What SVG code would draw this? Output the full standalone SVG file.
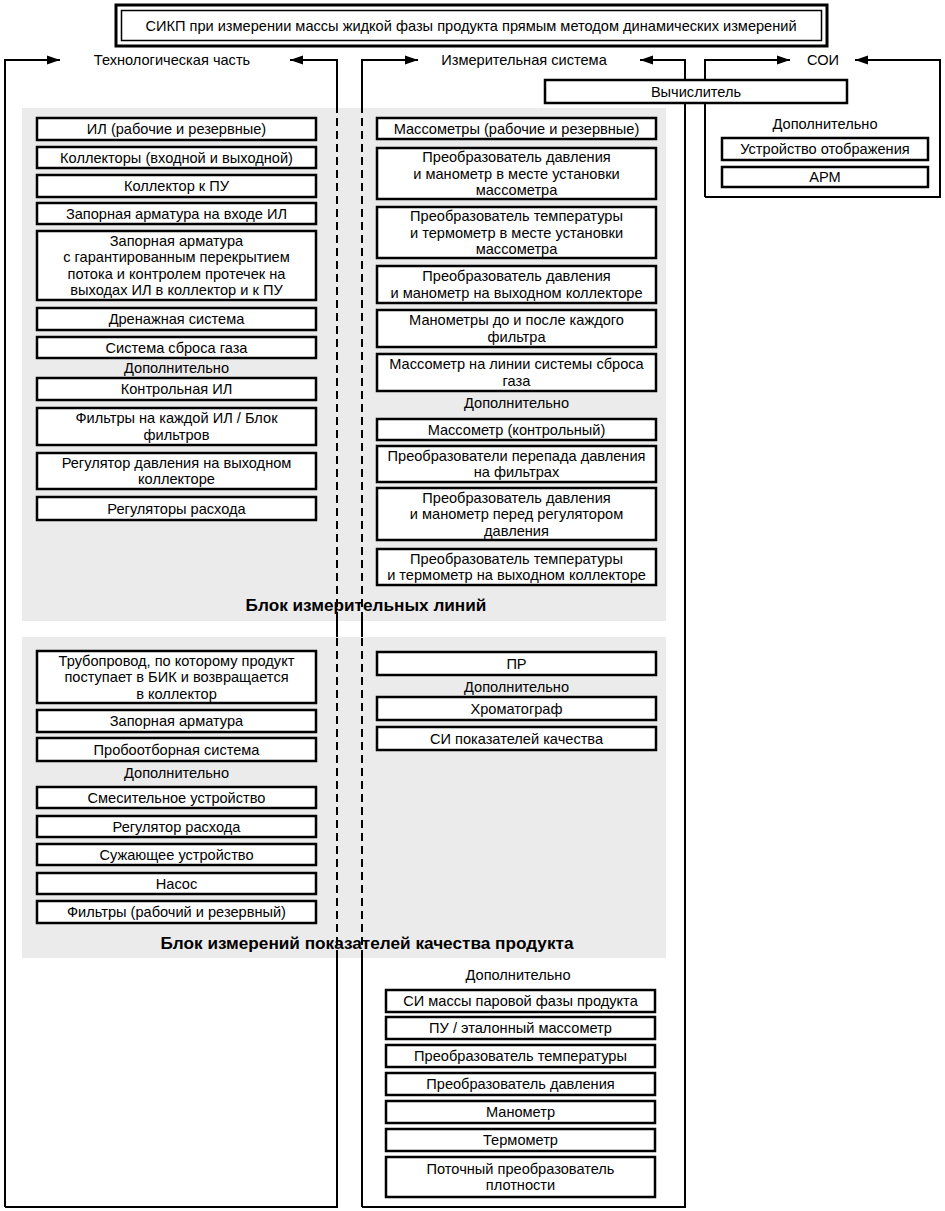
<svg xmlns="http://www.w3.org/2000/svg" width="945" height="1211" viewBox="0 0 945 1211">
<defs>
<marker id="arr" markerUnits="userSpaceOnUse" markerWidth="14" markerHeight="10" refX="13" refY="5" orient="auto">
<path d="M0,0.5 L13,5 L0,9.5 z" fill="#000"/>
</marker>
<style>
text{font-family:"Liberation Sans",Arial,sans-serif;font-size:14.6px;fill:#000;text-anchor:middle}
.b{font-weight:bold;font-size:17.2px}
.box{fill:#fff;stroke:#000;stroke-width:2.5}
.panel{fill:#ebebeb;stroke:none}
.ln{fill:none;stroke:#000;stroke-width:2}
.dash{fill:none;stroke:#000;stroke-width:2;stroke-dasharray:8,5}
</style>
</defs>
<rect width="945" height="1211" fill="#fff"/>

<g id="panels">
<rect class="panel" x="22" y="108" width="644" height="513"/>
<rect class="panel" x="22" y="637" width="644" height="321"/>
<text class="b" x="366" y="611">Блок измерительных линий</text>
<text class="b" x="367" y="949">Блок измерений показателей качества продукта</text>
</g>

<g id="connectors">
<path class="ln" d="M5,1207 L5,60 L60,60" marker-end="url(#arr)"/>
<path class="ln" d="M5,1207 L337,1207 L337,958"/>
<path class="dash" d="M337,958 L337,637"/>
<path class="ln" d="M337,637 L337,620"/>
<path class="dash" d="M337,620 L337,108"/>
<path class="ln" d="M337,108 L337,60 L290,60" marker-end="url(#arr)"/>
<path class="ln" d="M362,108 L362,60 L418,60" marker-end="url(#arr)"/>
<path class="ln" d="M362,1207 L685,1207 L685,60 L640,60" marker-end="url(#arr)"/>
<path class="ln" d="M362,1207 L362,958"/>
<path class="dash" d="M362,958 L362,637"/>
<path class="ln" d="M362,637 L362,620"/>
<path class="dash" d="M362,620 L362,108"/>
<path class="ln" d="M705,197 L705,60 L790,60" marker-end="url(#arr)"/>
<path class="ln" d="M705,197 L940,197 L940,60 L855,60" marker-end="url(#arr)"/>
</g>

<g id="title">
<rect x="116" y="5" width="711" height="41" fill="#fff" stroke="#000" stroke-width="3"/>
<rect x="121.5" y="10.5" width="700" height="30" fill="none" stroke="#000" stroke-width="1.5"/>
<text x="471" y="30.5">СИКП при измерении массы жидкой фазы продукта прямым методом динамических измерений</text>
</g>

<g id="labels">
<text x="172" y="65">Технологическая часть</text>
<text x="524" y="65">Измерительная система</text>
<text x="823" y="65">СОИ</text>
</g>

<g id="soi">
<g id="n-vych"><rect class="box" x="545" y="80" width="302" height="23"/><text x="696" y="96.5">Вычислитель</text></g>
<text x="825" y="129">Дополнительно</text>
<g id="n-ustr"><rect class="box" x="722" y="138" width="206" height="22"/><text x="825" y="154">Устройство отображения</text></g>
<g id="n-arm"><rect class="box" x="722" y="167" width="206" height="20"/><text x="825" y="182">АРМ</text></g>
</g>

<g id="tech-il">
<g id="l1"><rect class="box" x="37" y="118" width="279" height="22"/><text x="176.5" y="134">ИЛ (рабочие и резервные)</text></g>
<g id="l2"><rect class="box" x="37" y="147" width="279" height="21"/><text x="176.5" y="162.5">Коллекторы (входной и выходной)</text></g>
<g id="l3"><rect class="box" x="37" y="175" width="279" height="22"/><text x="176.5" y="191">Коллектор к ПУ</text></g>
<g id="l4"><rect class="box" x="37" y="203" width="279" height="21"/><text x="176.5" y="218.5">Запорная арматура на входе ИЛ</text></g>
<g id="l5"><rect class="box" x="37" y="231" width="279" height="69"/>
<text x="176.5" y="245.75">Запорная арматура</text>
<text x="176.5" y="262.25">с гарантированным перекрытием</text>
<text x="176.5" y="278.75">потока и контролем протечек на</text>
<text x="176.5" y="295.25">выходах ИЛ в коллектор и к ПУ</text></g>
<g id="l6"><rect class="box" x="37" y="308" width="279" height="22"/><text x="176.5" y="324">Дренажная система</text></g>
<g id="l7"><rect class="box" x="37" y="337" width="279" height="21"/><text x="176.5" y="352.5">Система сброса газа</text></g>
<text x="176.5" y="373">Дополнительно</text>
<g id="l8"><rect class="box" x="37" y="378" width="279" height="22"/><text x="176.5" y="394">Контрольная ИЛ</text></g>
<g id="l9"><rect class="box" x="37" y="408" width="279" height="37"/><text x="176.5" y="423">Фильтры на каждой ИЛ / Блок</text><text x="176.5" y="440">фильтров</text></g>
<g id="l10"><rect class="box" x="37" y="453" width="279" height="36"/><text x="176.5" y="468">Регулятор давления на выходном</text><text x="176.5" y="484">коллекторе</text></g>
<g id="l11"><rect class="box" x="37" y="497" width="279" height="23"/><text x="176.5" y="513.5">Регуляторы расхода</text></g>
</g>

<g id="meas-il">
<g id="r1"><rect class="box" x="377" y="118" width="279" height="21"/><text x="516.5" y="133.5">Массометры (рабочие и резервные)</text></g>
<g id="r2"><rect class="box" x="377" y="148" width="279" height="51"/><text x="516.5" y="162">Преобразователь давления</text><text x="516.5" y="178.5">и манометр в месте установки</text><text x="516.5" y="195">массометра</text></g>
<g id="r3"><rect class="box" x="377" y="207" width="279" height="51"/><text x="516.5" y="221">Преобразователь температуры</text><text x="516.5" y="237.5">и термометр в месте установки</text><text x="516.5" y="254">массометра</text></g>
<g id="r4"><rect class="box" x="377" y="266" width="279" height="37"/><text x="516.5" y="281">Преобразователь давления</text><text x="516.5" y="297.5">и манометр на выходном коллекторе</text></g>
<g id="r5"><rect class="box" x="377" y="310" width="279" height="37"/><text x="516.5" y="325">Манометры до и после каждого</text><text x="516.5" y="341.5">фильтра</text></g>
<g id="r6"><rect class="box" x="377" y="354" width="279" height="37"/><text x="516.5" y="369">Массометр на линии системы сброса</text><text x="516.5" y="385.5">газа</text></g>
<text x="516.5" y="408">Дополнительно</text>
<g id="r7"><rect class="box" x="377" y="419" width="279" height="21"/><text x="516.5" y="434.5">Массометр (контрольный)</text></g>
<g id="r8"><rect class="box" x="377" y="446" width="279" height="36"/><text x="516.5" y="460.75">Преобразователи перепада давления</text><text x="516.5" y="477.25">на фильтрах</text></g>
<g id="r9"><rect class="box" x="377" y="488" width="279" height="52"/><text x="516.5" y="502.5">Преобразователь давления</text><text x="516.5" y="519">и манометр перед регулятором</text><text x="516.5" y="535.5">давления</text></g>
<g id="r10"><rect class="box" x="377" y="549" width="279" height="36"/><text x="516.5" y="563.75">Преобразователь температуры</text><text x="516.5" y="580.25">и термометр на выходном коллекторе</text></g>
</g>

<g id="tech-bik">
<g id="q1"><rect class="box" x="37" y="651" width="279" height="52"/><text x="176.5" y="665.5">Трубопровод, по которому продукт</text><text x="176.5" y="682">поступает в БИК и возвращается</text><text x="176.5" y="698.5">в коллектор</text></g>
<g id="q2"><rect class="box" x="37" y="710" width="279" height="22"/><text x="176.5" y="726">Запорная арматура</text></g>
<g id="q3"><rect class="box" x="37" y="738" width="279" height="23"/><text x="176.5" y="754.5">Пробоотборная система</text></g>
<text x="176.5" y="778">Дополнительно</text>
<g id="q4"><rect class="box" x="37" y="787" width="279" height="21"/><text x="176.5" y="802.5">Смесительное устройство</text></g>
<g id="q5"><rect class="box" x="37" y="816" width="279" height="21"/><text x="176.5" y="831.5">Регулятор расхода</text></g>
<g id="q6"><rect class="box" x="37" y="844" width="279" height="21"/><text x="176.5" y="859.5">Сужающее устройство</text></g>
<g id="q7"><rect class="box" x="37" y="873" width="279" height="21"/><text x="176.5" y="888.5">Насос</text></g>
<g id="q8"><rect class="box" x="37" y="901" width="279" height="22"/><text x="176.5" y="917">Фильтры (рабочий и резервный)</text></g>
</g>

<g id="meas-bik">
<g id="p1"><rect class="box" x="377" y="652" width="279" height="23"/><text x="516.5" y="668.5">ПР</text></g>
<text x="516.5" y="692">Дополнительно</text>
<g id="p2"><rect class="box" x="377" y="697" width="279" height="23"/><text x="516.5" y="713.5">Хроматограф</text></g>
<g id="p3"><rect class="box" x="377" y="727" width="279" height="23"/><text x="516.5" y="743.5">СИ показателей качества</text></g>
</g>

<g id="meas-extra">
<text x="518" y="980">Дополнительно</text>
<g id="e1"><rect class="box" x="386" y="990" width="269" height="22"/><text x="520.5" y="1006">СИ массы паровой фазы продукта</text></g>
<g id="e2"><rect class="box" x="386" y="1017" width="269" height="22"/><text x="520.5" y="1033">ПУ / эталонный массометр</text></g>
<g id="e3"><rect class="box" x="386" y="1045" width="269" height="22"/><text x="520.5" y="1061">Преобразователь температуры</text></g>
<g id="e4"><rect class="box" x="386" y="1073" width="269" height="22"/><text x="520.5" y="1089">Преобразователь давления</text></g>
<g id="e5"><rect class="box" x="386" y="1101" width="269" height="22"/><text x="520.5" y="1117">Манометр</text></g>
<g id="e6"><rect class="box" x="386" y="1129" width="269" height="22"/><text x="520.5" y="1145">Термометр</text></g>
<g id="e7"><rect class="box" x="386" y="1157" width="269" height="40"/><text x="520.5" y="1173.75">Поточный преобразователь</text><text x="520.5" y="1190.25">плотности</text></g>
</g>
</svg>
